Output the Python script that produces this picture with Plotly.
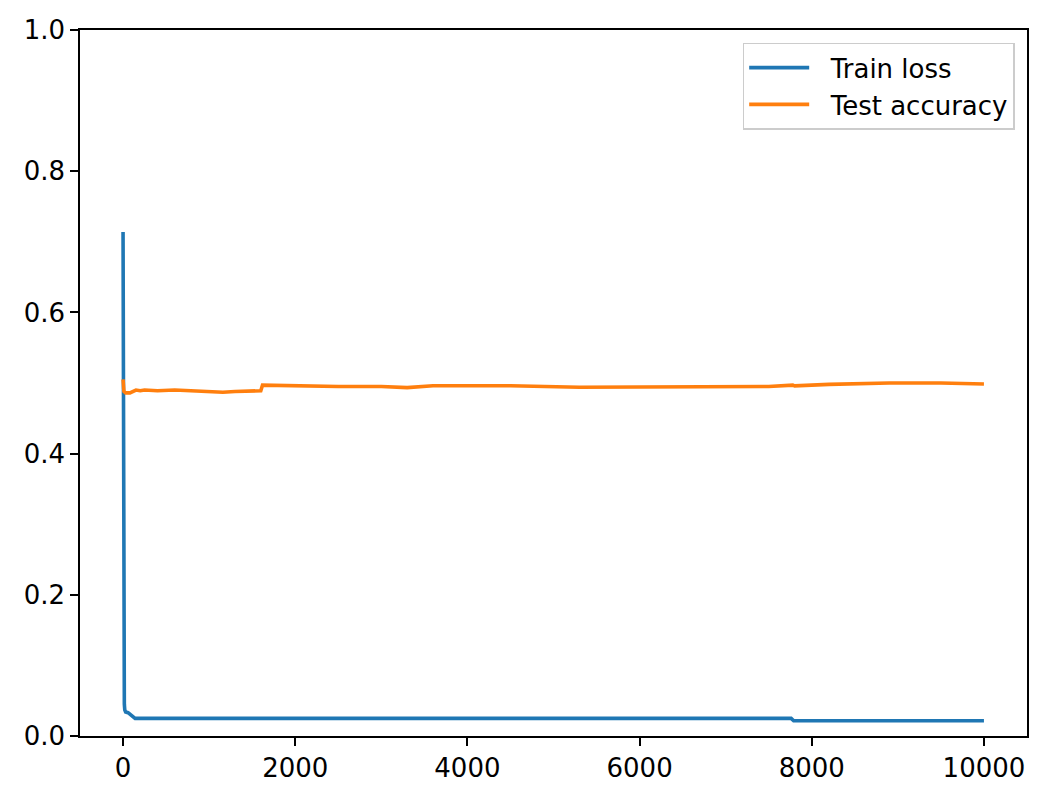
import plotly.graph_objects as go

# values
train_steps = [0, 2, 4, 6, 8, 10, 12, 15, 20, 30, 58, 80, 100, 120, 140, 7760, 7790, 10000]
train_loss = [0.714, 0.45, 0.30, 0.20, 0.13, 0.085, 0.06, 0.045, 0.037, 0.034, 0.033, 0.031, 0.029, 0.028, 0.025, 0.025, 0.0215, 0.0215]

test_steps = [0, 10, 30, 80, 150, 200, 250, 400, 600, 800, 1000, 1160, 1300, 1500, 1600, 1620, 2000,
              2500, 3000, 3300, 3600, 4500, 5300, 5700, 6200, 7000, 7500, 7780, 7800, 8200, 8900, 9500, 10000]
test_acc = [0.505, 0.488, 0.486, 0.486, 0.490, 0.489, 0.490, 0.489, 0.490, 0.489, 0.488, 0.487, 0.488, 0.489, 0.489,
            0.497, 0.496, 0.495, 0.495, 0.4935, 0.496, 0.496, 0.494, 0.494, 0.495, 0.495, 0.495, 0.497, 0.496,
            0.498, 0.500, 0.500, 0.4985]

x_ticks = [0, 2000, 4000, 6000, 8000, 10000]
y_ticks = [0.0, 0.2, 0.4, 0.6, 0.8, 1.0]

# nbsp padding puts a gap between legend line and label, like matplotlib
gap = "\u00a0\u00a0"

fig = go.Figure()
fig.add_trace(go.Scatter(x=train_steps, y=train_loss, mode="lines", name=gap + "Train loss",
                         line=dict(color="#1f77b4", width=3.6)))
fig.add_trace(go.Scatter(x=test_steps, y=test_acc, mode="lines", name=gap + "Test accuracy",
                         line=dict(color="#ff7f0e", width=3.6)))

axis_style = dict(showgrid=False, zeroline=False, showline=True, linecolor="black", linewidth=1.6,
                  mirror=True, ticks="outside", ticklen=8, tickwidth=1.6, tickcolor="black",
                  automargin=False,
                  tickfont=dict(family="DejaVu Sans", size=26, color="black"))

fig.update_xaxes(range=[-500, 10500], tickvals=x_ticks, ticktext=[str(v) for v in x_ticks], **axis_style)
fig.update_yaxes(range=[0, 1], tickvals=y_ticks, ticktext=["%.1f" % v for v in y_ticks], **axis_style)

# page body adds an 8px margin, so shift everything up/left by that
fig.update_layout(width=1038, height=784, margin=dict(l=72, r=19, t=22, b=56),
                  plot_bgcolor="white", paper_bgcolor="white",
                  font=dict(family="DejaVu Sans", size=26, color="black"),
                  legend=dict(x=0.987, y=0.982, xanchor="right", yanchor="top",
                              bgcolor="rgba(255,255,255,0.8)", bordercolor="#cccccc", borderwidth=1.5,
                              itemwidth=60, font=dict(size=26), tracegroupgap=6))

fig.write_html("out.html")
